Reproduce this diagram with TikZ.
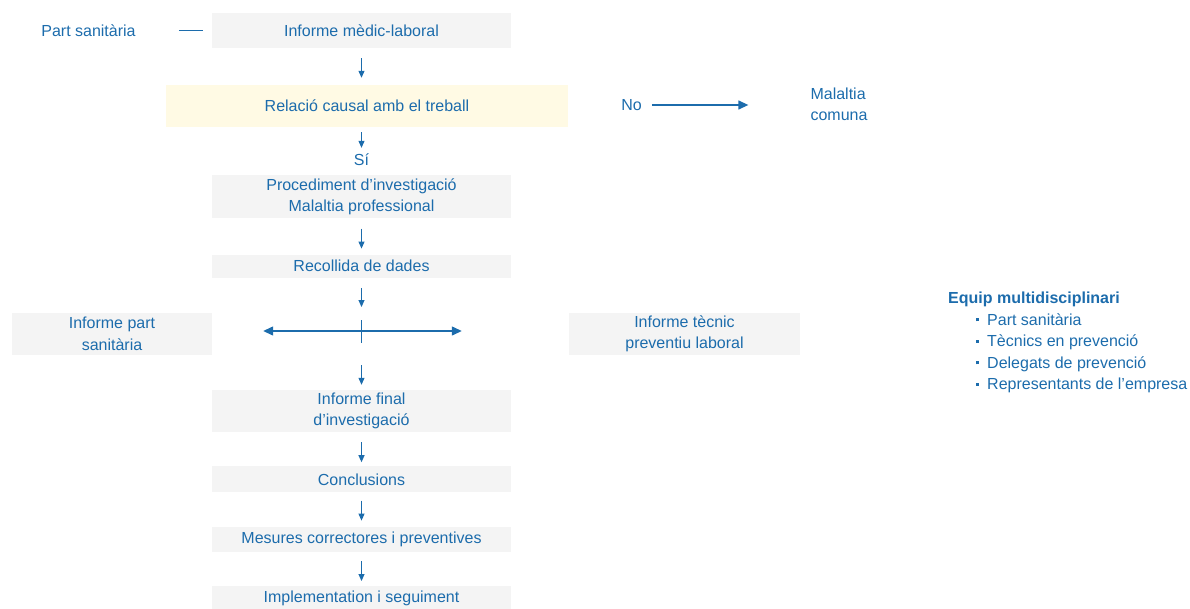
\documentclass[tikz,border=0pt]{standalone}
\usepackage{fontspec}
\setmainfont{Liberation Sans}
\usetikzlibrary{arrows.meta, positioning}
\definecolor{cBlue}{RGB}{28,108,172}
\definecolor{cBox}{RGB}{244,244,244}
\definecolor{cCause}{RGB}{255,250,228}
\tikzset{
	stage/.style ={rectangle, fill=cBox, minimum width=299pt, align=center, inner sep=0pt, text=cBlue},
	txt/.style   ={inner sep=0pt, align=center, text=cBlue},
	down/.style  ={-{Triangle[length=7pt, width=6pt]}, draw=cBlue, line width=1pt, shorten <=9pt, shorten >=5pt},
	flow/.style  ={-{Triangle[length=10pt, width=9pt]}, draw=cBlue, line width=1.3pt},
}
\newcommand{\bul}{\makebox[39pt][r]{\raisebox{4pt}{\rule{3pt}{3pt}}\hspace{8pt}}}

\begin{document}
\begin{tikzpicture}[x=1pt, y=1pt, font=\fontsize{16}{21.5}\selectfont]
	\useasboundingbox (0,0) rectangle (1190,-608);
	% main column
	\node[stage, minimum height=35pt] (med) at (361.5,-30.5) {Informe mèdic-laboral};
	\node[stage, minimum width=402pt, minimum height=42pt, fill=cCause] (rel) at (367,-106) {Relació causal amb el treball};
	\node[txt] (si) at (361.5,-160) {Sí};
	\node[stage, minimum height=43pt, below=9pt of si] (proc) {Procediment d’investigació\\Malaltia professional};
	\node[stage, minimum height=23pt, below=36pt of proc] (rec) {Recollida de dades};
	\coordinate (hub) at (361.5,-331);
	\node[stage, minimum height=42pt] (final) at (361.5,-411) {Informe final\\d’investigació};
	\node[stage, minimum height=26pt, below=34pt of final] (conc) {Conclusions};
	\node[stage, minimum height=25pt, below=34pt of conc] (mes) {Mesures correctores i preventives};
	\node[stage, minimum height=24pt, below=34pt of mes] (impl) {Implementation i seguiment};
	% side reports
	\node[stage, minimum width=200pt, minimum height=42pt] (ips) at (112,-334) {Informe part\\sanitària};
	\node[stage, minimum width=231pt, minimum height=42pt] (itp) at (684.5,-334) {Informe tècnic\\preventiu laboral};
	% labels
	\node[txt] (ps) at (88.5,-30.5) {Part sanitària};
	\node[txt] (no) at (631.5,-105) {No};
	\node[txt, align=left] (mc) at (839,-104.5) {Malaltia\\comuna};
	\node[txt, align=left, anchor=north west] (equip) at (948,-292) {\textbf{Equip multidisciplinari}\\
		\bul Part sanitària\\
		\bul Tècnics en prevenció\\
		\bul Delegats de prevenció\\
		\bul Representants de l’empresa};
	% connectors
	\draw[draw=cBlue, line width=1.3pt, shorten <=43pt, shorten >=9pt] (ps) -- (ps -| med.west);
	\draw[flow, shorten <=10pt, shorten >=62pt] (no) -- (no -| mc.west);
	\draw[down, shorten <=0pt, shorten >=7pt] ([yshift=-10pt]med.south) -- (med.south |- rel.north);
	\draw[down, shorten <=0pt, shorten >=6pt] ([yshift=-5pt]si |- rel.south) -- (si);
	\draw[down, shorten <=10pt, shorten >=6pt] (proc) -- (rec);
	\draw[down, shorten <=10pt, shorten >=24pt] (rec) -- (hub);
	\draw[draw=cBlue, line width=1pt] ([yshift=11pt]hub) -- ([yshift=-12pt]hub);
	\draw[flow, shorten >=51pt] (hub) -- (hub -| ips.east);
	\draw[flow, shorten >=107pt] (hub) -- (hub -| itp.west);
	\draw[down, shorten <=34pt] (hub) -- (final);
	\draw[down, shorten <=10pt, shorten >=4pt] (final) -- (conc);
	\draw[down, shorten <=8pt, shorten >=6pt] (conc) -- (mes);
	\draw[down] (mes) -- (impl);
\end{tikzpicture}
\end{document}
